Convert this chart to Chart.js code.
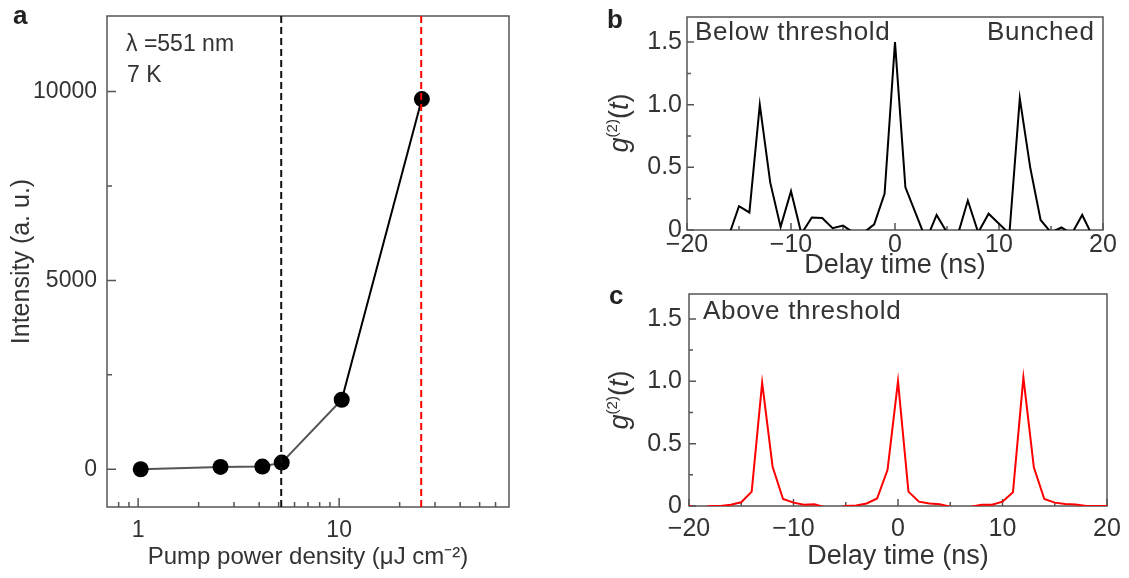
<!DOCTYPE html>
<html>
<head>
<meta charset="utf-8">
<script src="https://cdn.jsdelivr.net/npm/chart.js@4.4.1/dist/chart.umd.min.js"></script>
<style>
body { margin: 0; background: #fff; font-family: "Liberation Sans", Arial, sans-serif; color: #333; }
#wrap { position: relative; width: 1129px; height: 578px; overflow: hidden; }
canvas { position: absolute; }
.txt { position: absolute; white-space: nowrap; line-height: 1; color: #333; }
.letter { position: absolute; line-height: 1; font-weight: bold; font-size: 26px; color: #222; }
.gt { position: absolute; white-space: nowrap; line-height: 1; font-size: 27px; color: #333;
      transform: translate(-50%, -50%) rotate(-90deg); }
.gt sup { font-size: 15px; vertical-align: 11px; }
</style>
</head>
<body>
<div id="wrap">
  <canvas id="chartA" width="600" height="578" style="left:0;top:0"></canvas>
  <canvas id="chartB" width="529" height="290" style="left:600px;top:0"></canvas>
  <canvas id="chartC" width="529" height="298" style="left:600px;top:280px"></canvas>

  <div class="letter" style="left:13px;top:2px">a</div>
  <div class="letter" style="left:607px;top:6px">b</div>
  <div class="letter" style="left:609px;top:282px">c</div>

  <div class="txt" style="left:126px;top:32px;font-size:23px">λ =551 nm</div>
  <div class="txt" style="left:127px;top:63px;font-size:23px">7 K</div>
  <div class="txt" style="left:695px;top:18px;font-size:26px;letter-spacing:0.7px">Below threshold</div>
  <div class="txt" style="left:987px;top:18px;font-size:26px;letter-spacing:0.7px">Bunched</div>
  <div class="txt" style="left:703px;top:297px;font-size:26px;letter-spacing:0.7px">Above threshold</div>

  <div class="gt" style="left:618px;top:123px"><i>g</i><sup>(2)</sup>(<i>t</i>)</div>
  <div class="gt" style="left:618px;top:400px"><i>g</i><sup>(2)</sup>(<i>t</i>)</div>
</div>
<script>
// panel a: intensity vs pump power density
var pumpDensity = [1.03, 2.57, 4.15, 5.18, 10.3, 25.8];
var intensity = [0, 60, 70, 175, 1840, 9800];
var thresholdPump = [5.15, 25.6];
var pumpTicks = [1, 10];
var pumpMinorTicks = [0.8, 0.9, 2, 3, 4, 5, 6, 7, 8, 9, 20, 30, 40, 50, 60];
var intensityTicks = [0, 5000, 10000];
var intensityMinorTicks = [2500, 7500];

// panels b and c: g2 vs delay time
var delayTime = [-20, -19, -18, -17, -16, -15, -14, -13, -12, -11, -10, -9, -8, -7, -6, -5, -4, -3, -2, -1,
  0, 1, 2, 3, 4, 5, 6, 7, 8, 9, 10, 11, 12, 13, 14, 15, 16, 17, 18, 19, 20];
var g2Below = [-0.05, -0.05, -0.03, -0.02, -0.05, 0.19, 0.14, 1.0, 0.38, 0.025, 0.31, -0.03, 0.10, 0.095, 0.015, 0.035, -0.02, -0.02, 0.045, 0.29,
  1.5, 0.34, 0.13, -0.08, 0.12, -0.02, -0.05, 0.235, -0.02, 0.13, 0.05, -0.03, 1.05, 0.5, 0.08, -0.02, 0.02, -0.03, 0.12, -0.05, -0.05];
var g2Above = [0, -0.02, 0, 0, 0.01, 0.03, 0.115, 0.99, 0.315, 0.056, 0.027, 0.01, 0.013, -0.01, -0.02, 0, 0.005, 0.02, 0.06, 0.29,
  1.0, 0.115, 0.035, 0.02, 0.015, -0.005, -0.01, -0.005, 0.01, 0.01, 0.035, 0.11, 1.03, 0.31, 0.056, 0.027, 0.016, 0.013, 0, 0, 0];
var delayTicks = [-20, -10, 0, 10, 20];
var delayMinorTicks = [-15, -5, 5, 15];
var g2Ticks = [0, 0.5, 1, 1.5];
var g2MinorTicks = [0.25, 0.75, 1.25];

Chart.defaults.font.family = '"Liberation Sans", Arial, sans-serif';
Chart.defaults.color = '#333';

// box around the plot and inward tick marks
var frameTicks = {
  id: 'frameTicks',
  beforeDatasetsDraw: function(chart, args, opts) {
    var ctx = chart.ctx, a = chart.chartArea;
    var xs = chart.scales.x, ys = chart.scales.y;
    ctx.save();
    ctx.strokeStyle = '#555';
    ctx.lineWidth = 1.5;
    ctx.strokeRect(a.left, a.top, a.right - a.left, a.bottom - a.top);
    ctx.beginPath();
    xs.ticks.forEach(function(t) {
      var px = xs.getPixelForValue(t.value);
      ctx.moveTo(px, a.bottom); ctx.lineTo(px, a.bottom - opts.major);
    });
    opts.xMinor.forEach(function(v) {
      var px = xs.getPixelForValue(v);
      ctx.moveTo(px, a.bottom); ctx.lineTo(px, a.bottom - opts.minor);
    });
    ys.ticks.forEach(function(t) {
      var py = ys.getPixelForValue(t.value);
      ctx.moveTo(a.left, py); ctx.lineTo(a.left + opts.major, py);
    });
    opts.yMinor.forEach(function(v) {
      var py = ys.getPixelForValue(v);
      ctx.moveTo(a.left, py); ctx.lineTo(a.left + opts.minor, py);
    });
    ctx.stroke();
    ctx.restore();
  }
};

function setTicks(list) {
  return function(scale) {
    scale.ticks = list.map(function(v) { return { value: v }; });
  };
}
function fixHeight(h) {
  return function(s) { s.height = h; s.paddingLeft = 0; s.paddingRight = 0; };
}
function fixWidth(w) {
  return function(s) { s.width = w; s.paddingTop = 0; s.paddingBottom = 0; };
}
function minusLabel(v) {
  return v < 0 ? '\u2212' + Math.abs(v) : String(v);
}

new Chart(document.getElementById('chartA'), {
  type: 'scatter',
  data: {
    datasets: [
      {
        data: [{ x: thresholdPump[0], y: -1000 }, { x: thresholdPump[0], y: 12000 }],
        showLine: true, borderColor: '#111', borderWidth: 2, borderDash: [7, 4], pointRadius: 0
      },
      {
        data: [{ x: thresholdPump[1], y: -1000 }, { x: thresholdPump[1], y: 12000 }],
        showLine: true, borderColor: '#ff0000', borderWidth: 2, borderDash: [7, 4], pointRadius: 0
      },
      {
        data: pumpDensity.map(function(x, i) { return { x: x, y: intensity[i] }; }),
        showLine: true, borderColor: '#000', borderWidth: 2,
        pointRadius: 8, pointBackgroundColor: '#000', pointBorderWidth: 0,
        segment: {
          borderColor: function(c) { return c.p1DataIndex < pumpDensity.length - 1 ? '#555' : '#000'; }
        }
      }
    ]
  },
  options: {
    responsive: false,
    animation: false,
    layout: { padding: { left: 0, top: 16, right: 91, bottom: 0 } },
    plugins: {
      legend: { display: false },
      tooltip: { enabled: false },
      frameTicks: { major: 9, minor: 5, xMinor: pumpMinorTicks, yMinor: intensityMinorTicks }
    },
    scales: {
      x: {
        type: 'logarithmic', min: 0.7, max: 70,
        grid: { display: false }, border: { display: false },
        afterBuildTicks: setTicks(pumpTicks),
        afterFit: fixHeight(71),
        ticks: { autoSkip: false, maxRotation: 0, padding: 2, font: { size: 23 }, color: '#333',
          callback: function(v) { return String(v); } },
        title: { display: true, text: 'Pump power density (\u03bcJ cm\u207b\u00b2)', font: { size: 24 }, color: '#333',
          padding: { top: 0, bottom: 6 } }
      },
      y: {
        min: -1000, max: 12000,
        grid: { display: false }, border: { display: false },
        afterBuildTicks: setTicks(intensityTicks),
        afterFit: fixWidth(107),
        ticks: { autoSkip: false, padding: 2, font: { size: 23 }, color: '#333',
          callback: function(v) { return String(v); } },
        title: { display: true, text: 'Intensity (a. u.)', font: { size: 25 }, color: '#333',
          padding: { top: 7, bottom: 0 } }
      }
    }
  },
  plugins: [frameTicks]
});

function g2Chart(id, values, color, opt) {
  return new Chart(document.getElementById(id), {
    type: 'line',
    data: {
      labels: delayTime,
      datasets: [{
        data: delayTime.map(function(t, i) { return { x: t, y: values[i] }; }),
        borderColor: color, borderWidth: 2, pointRadius: 0, tension: 0
      }]
    },
    options: {
      responsive: false,
      animation: false,
      layout: { padding: { left: 0, top: opt.top, right: opt.right, bottom: 0 } },
      plugins: {
        legend: { display: false },
        tooltip: { enabled: false },
        frameTicks: { major: 7, minor: 4, xMinor: delayMinorTicks, yMinor: g2MinorTicks }
      },
      scales: {
        x: {
          type: 'linear', min: -20, max: 20,
          grid: { display: false }, border: { display: false },
          afterBuildTicks: setTicks(delayTicks),
          afterFit: fixHeight(opt.xHeight),
          ticks: { autoSkip: false, maxRotation: 0, padding: opt.xPad, font: { size: 25 }, color: '#333',
            callback: minusLabel },
          title: { display: true, text: 'Delay time (ns)', font: { size: 27 }, color: '#333',
            padding: { top: 0, bottom: opt.titlePad } }
        },
        y: {
          min: 0, max: 1.7,
          grid: { display: false }, border: { display: false },
          afterBuildTicks: setTicks(g2Ticks),
          afterFit: fixWidth(opt.yWidth),
          ticks: { autoSkip: false, padding: opt.yPad, font: { size: 25 }, color: '#333',
            callback: function(v) { return v === 0 ? '0' : v.toFixed(1); } }
        }
      }
    },
    plugins: [frameTicks]
  });
}

g2Chart('chartB', g2Below, '#000', { top: 17, right: 26, xHeight: 60, xPad: -8, titlePad: 8, yWidth: 87, yPad: -3 });
g2Chart('chartC', g2Above, '#ff0000', { top: 14, right: 22, xHeight: 72, xPad: 0, titlePad: 5, yWidth: 89, yPad: -1 });
</script>
</body>
</html>
